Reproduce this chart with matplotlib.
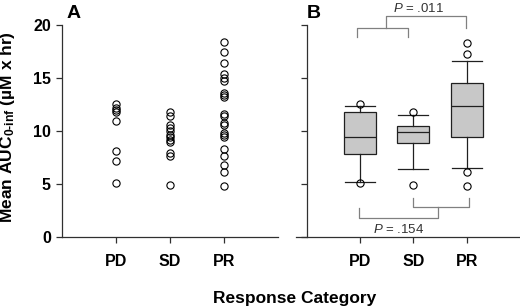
import matplotlib
matplotlib.use("Agg")
import matplotlib.pyplot as plt

plt.rcParams['font.family'] = ['Liberation Sans', 'DejaVu Sans']
plt.rcParams['mathtext.fontset'] = 'custom'
plt.rcParams['mathtext.rm'] = 'Liberation Sans:bold'
plt.rcParams['mathtext.it'] = 'Liberation Sans:italic'
plt.rcParams['mathtext.bf'] = 'Liberation Sans:bold'

categories = ["PD", "SD", "PR"]
pd_vals = [12.5, 12.2, 12.0, 11.8, 10.9, 8.1, 7.2, 5.1]
sd_vals = [11.76, 11.45, 10.57, 10.25, 10.0, 9.62, 9.4, 9.15, 8.99, 7.89, 7.64, 4.9]
pr_vals = [18.43, 17.42, 16.38, 15.34, 14.97, 14.72, 13.55, 13.4, 13.24, 11.6, 11.42,
           10.79, 10.57, 9.84, 9.62, 9.46, 8.27, 7.64, 6.79, 6.16, 4.84]
groups = [pd_vals, sd_vals, pr_vals]

# box statistics
box_q1 = [7.8, 8.9, 9.4]
box_med = [9.43, 9.87, 12.33]
box_q3 = [11.82, 10.5, 14.53]
whisk_lo = [5.22, 6.42, 6.48]
whisk_hi = [12.36, 11.48, 16.64]
outliers = [[12.5, 5.1], [11.76, 4.9], [18.3, 17.3, 6.1, 4.84]]

yticks = [0, 5, 10, 15, 20]
p_top = ".011"
p_bottom = ".154"

W, H = 520, 308
fig = plt.figure(figsize=(W / 100, H / 100), dpi=100)

ybot = (H - 237) / H
ytop = (H - 25) / H
axA = fig.add_axes([62 / W, ybot, 216 / W, ytop - ybot])
axB = fig.add_axes([296 / W, ybot, 224 / W, ytop - ybot])

spine_col = "#303030"
for ax in (axA, axB):
    ax.set_ylim(0, 20)
    ax.set_yticks(yticks)
    ax.set_xticks([1, 2, 3])
    ax.set_xticklabels(categories, fontsize=11.5, fontweight="bold")
    ax.spines["top"].set_visible(False)
    ax.spines["right"].set_visible(False)
    for s in ("left", "bottom"):
        ax.spines[s].set_color(spine_col)
        ax.spines[s].set_linewidth(0.9)
    ax.tick_params(axis="x", length=4, width=0.9, color=spine_col, pad=8.5)
    ax.tick_params(axis="y", length=4, width=0.9, color=spine_col, pad=4)

axA.set_xlim(0, 4)
axA.set_yticklabels([str(t) for t in yticks], fontsize=11.5, fontweight="bold")
for i, vals in enumerate(groups):
    axA.plot([i + 1] * len(vals), vals, linestyle="none", marker="o",
             markersize=5.2, markerfacecolor="none", markeredgecolor="black",
             markeredgewidth=0.8, clip_on=False)

axB.set_xlim(-0.2, 4.0)
axB.spines["left"].set_position(("data", 0))
axB.set_yticklabels([])
stats = []
for i in range(3):
    stats.append(dict(med=box_med[i], q1=box_q1[i], q3=box_q3[i],
                      whislo=whisk_lo[i], whishi=whisk_hi[i], fliers=outliers[i]))
axB.bxp(stats, positions=[1, 2, 3], widths=0.6, patch_artist=True,
        boxprops=dict(facecolor="#c8c8c8", edgecolor="#202020", linewidth=0.9),
        medianprops=dict(color="#202020", linewidth=0.9),
        whiskerprops=dict(color="#202020", linewidth=0.9),
        capprops=dict(color="#202020", linewidth=0.9),
        flierprops=dict(marker="o", markersize=5.2, markerfacecolor="none",
                        markeredgecolor="black", markeredgewidth=0.8),
        capwidths=0.56, manage_ticks=False)

bcol = "#808080"
lw = 0.9
# top bracket
axB.plot([0.95, 0.95, 1.9, 1.9], [18.87, 19.69, 19.69, 18.87], color=bcol, lw=lw, clip_on=False)
axB.plot([1.48, 1.48, 2.98, 2.98], [19.69, 20.85, 20.85, 19.69], color=bcol, lw=lw, clip_on=False)
axB.text(2.1, 21.6, "$\\mathit{P}$ = " + p_top, ha="center", va="center", fontsize=9.5,
         color="#333333", clip_on=False)
# bottom bracket
axB.plot([2.0, 2.0, 3.04, 3.04], [3.68, 2.86, 2.86, 3.68], color=bcol, lw=lw)
axB.plot([0.98, 0.98, 2.47, 2.47], [2.74, 1.82, 1.82, 2.86], color=bcol, lw=lw)
axB.text(1.72, 0.7, "$\\mathit{P}$ = " + p_bottom, ha="center", va="center", fontsize=9.5,
         color="#333333")

fig.text(67 / W, 1 - 14 / H, "A", fontsize=14, fontweight="bold", ha="left", va="center")
fig.text(307 / W, 1 - 14 / H, "B", fontsize=14, fontweight="bold", ha="left", va="center")
fig.text(295 / W, 1 - 298 / H, "Response Category", fontsize=12.5, fontweight="bold",
         ha="center", va="center")
fig.text(8 / W, 1 - 127 / H, "Mean AUC$_{\\mathregular{0\\text{-}inf}}$ (\u00b5M x hr)", rotation=90,
         fontsize=12.5, fontweight="bold", ha="center", va="center")

fig.savefig("out.png", dpi=100)
